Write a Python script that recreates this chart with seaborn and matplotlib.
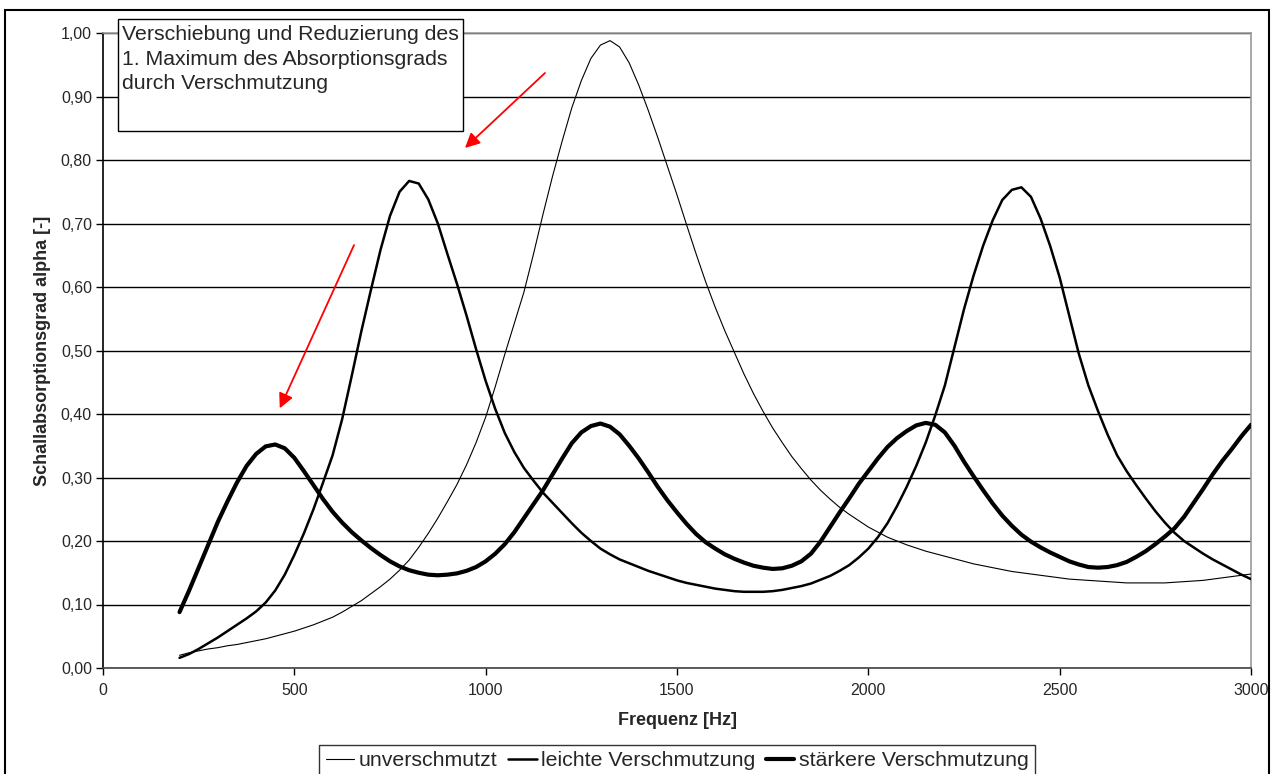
import matplotlib
matplotlib.use("Agg")
import matplotlib.pyplot as plt
import matplotlib.patches as mpatches
from matplotlib.lines import Line2D
from matplotlib.ticker import FuncFormatter
import pandas as pd
import seaborn as sns

sns.set_style("white")
plt.rcParams["font.family"] = ["Liberation Sans", "DejaVu Sans"]
plt.rcParams["lines.solid_joinstyle"] = "round"

# frequency grid of the read-off points (Hz)
freq = list(range(200, 3001, 25))

unverschmutzt = [
    0.020, 0.024, 0.027, 0.030, 0.032, 0.035, 0.037, 0.040, 0.043, 0.046,
    0.050, 0.054, 0.058, 0.063, 0.068, 0.074, 0.080, 0.088, 0.097, 0.106,
    0.117, 0.128, 0.140, 0.154, 0.170, 0.190, 0.212, 0.236, 0.262, 0.289,
    0.320, 0.355, 0.395, 0.443, 0.494, 0.543, 0.592, 0.652, 0.715, 0.775,
    0.830, 0.882, 0.925, 0.960, 0.981, 0.988, 0.978, 0.953, 0.918, 0.878,
    0.835, 0.790, 0.745, 0.698, 0.652, 0.608, 0.568, 0.531, 0.497, 0.463,
    0.432, 0.404, 0.378, 0.355, 0.333, 0.314, 0.296, 0.280, 0.266, 0.253,
    0.242, 0.232, 0.222, 0.214, 0.206, 0.200, 0.194, 0.189, 0.184, 0.180,
    0.176, 0.172, 0.168, 0.164, 0.161, 0.158, 0.155, 0.152, 0.150, 0.148,
    0.146, 0.144, 0.142, 0.140, 0.139, 0.138, 0.137, 0.136, 0.135, 0.134,
    0.134, 0.134, 0.134, 0.134, 0.135, 0.136, 0.137, 0.138, 0.140, 0.142,
    0.144, 0.146, 0.148,
]

leicht = [
    0.016, 0.022, 0.030, 0.039, 0.048, 0.058, 0.068, 0.078, 0.089, 0.103,
    0.122, 0.147, 0.178, 0.212, 0.250, 0.292, 0.335, 0.392, 0.460, 0.530,
    0.595, 0.658, 0.712, 0.750, 0.767, 0.763, 0.738, 0.700, 0.652, 0.605,
    0.555, 0.502, 0.452, 0.408, 0.370, 0.340, 0.315, 0.295, 0.276, 0.260,
    0.244, 0.228, 0.213, 0.200, 0.188, 0.179, 0.171, 0.165, 0.159, 0.153,
    0.148, 0.143, 0.138, 0.134, 0.131, 0.128, 0.125, 0.123, 0.121, 0.120,
    0.120, 0.120, 0.121, 0.123, 0.126, 0.129, 0.133, 0.139, 0.145, 0.153,
    0.162, 0.174, 0.188, 0.206, 0.228, 0.255, 0.285, 0.318, 0.355, 0.398,
    0.445, 0.505, 0.565, 0.618, 0.665, 0.705, 0.737, 0.753, 0.757, 0.742,
    0.708, 0.665, 0.615, 0.555, 0.495, 0.445, 0.405, 0.368, 0.335, 0.310,
    0.288, 0.267, 0.247, 0.229, 0.213, 0.200, 0.190, 0.180, 0.171, 0.163,
    0.155, 0.147, 0.140,
]

staerker = [
    0.088, 0.122, 0.158, 0.194, 0.230, 0.262, 0.292, 0.318, 0.337, 0.349,
    0.352, 0.346, 0.331, 0.310, 0.288, 0.266, 0.246, 0.229, 0.214, 0.201,
    0.189, 0.178, 0.168, 0.160, 0.154, 0.150, 0.147, 0.146, 0.147, 0.149,
    0.153, 0.159, 0.168, 0.180, 0.195, 0.214, 0.236, 0.258, 0.280, 0.305,
    0.330, 0.354, 0.371, 0.381, 0.385, 0.380, 0.368, 0.350, 0.330, 0.308,
    0.285, 0.264, 0.245, 0.227, 0.211, 0.198, 0.188, 0.179, 0.172, 0.166,
    0.161, 0.158, 0.156, 0.157, 0.161, 0.168, 0.180, 0.199, 0.222, 0.245,
    0.267, 0.290, 0.310, 0.330, 0.348, 0.362, 0.373, 0.382, 0.386, 0.383,
    0.371, 0.350, 0.325, 0.302, 0.280, 0.259, 0.240, 0.224, 0.210, 0.199,
    0.190, 0.182, 0.175, 0.168, 0.163, 0.159, 0.158, 0.159, 0.162, 0.167,
    0.175, 0.184, 0.195, 0.207, 0.220, 0.238, 0.260, 0.282, 0.305, 0.326,
    0.345, 0.365, 0.383,
]

series = [
    ("unverschmutzt", unverschmutzt, 0.8),
    ("leichte Verschmutzung", leicht, 1.8),
    ("stärkere Verschmutzung", staerker, 3.0),
]

fig = plt.figure(figsize=(12.72, 7.74), dpi=100)
ax = fig.add_axes([103 / 1272, 1 - 668 / 774, 1148 / 1272, 635 / 774])

handles = []
for name, vals, lw in series:
    df = pd.DataFrame({"f": freq, "a": vals})
    sns.lineplot(data=df, x="f", y="a", ax=ax, color="black", linewidth=lw,
                 sort=False, legend=False, zorder=3)
    handles.append(Line2D([], [], color="black", linewidth=lw, label=name))

ax.set_xlim(0, 3000)
ax.set_ylim(0, 1.0)
ax.set_xticks(range(0, 3001, 500))
ax.set_yticks([i / 10 for i in range(11)])
ax.yaxis.set_major_formatter(FuncFormatter(lambda v, p: f"{v:.2f}".replace(".", ",")))
ax.grid(axis="y", color="black", linewidth=1.0)
ax.grid(axis="x", visible=False)
ax.set_axisbelow(True)

for side in ["top", "right"]:
    ax.spines[side].set_color("#999999")
    ax.spines[side].set_linewidth(1.2)
ax.spines["left"].set_color("black")
ax.spines["bottom"].set_color("#444444")
for side in ["left", "bottom"]:
    ax.spines[side].set_linewidth(1.2)

ax.tick_params(axis="both", direction="out", length=5, width=1, color="black",
               labelsize=11.5, left=True, bottom=True)
ax.tick_params(axis="x", pad=6)
ax.tick_params(axis="y", pad=3)

ax.set_xlabel("Frequenz [Hz]", fontsize=13, fontweight="bold", labelpad=10)
ax.set_ylabel("Schallabsorptionsgrad alpha [-]", fontsize=13, fontweight="bold", labelpad=7)

# annotation box
box = mpatches.Rectangle((15 / 1148, 0.8457), 345 / 1148, 0.1765, transform=ax.transAxes,
                         facecolor="white", edgecolor="black", linewidth=1, clip_on=False, zorder=5)
ax.add_patch(box)
ax.text(19 / 1148, 1.0126, "Verschiebung und Reduzierung des\n1. Maximum des Absorptionsgrads\ndurch Verschmutzung",
        transform=ax.transAxes, fontsize=15.3, va="top", ha="left", linespacing=1.38, zorder=6)

# red arrows
for start, end in [((1155, 0.937), (946, 0.819)), ((656, 0.666), (462, 0.409))]:
    ax.annotate("", xy=end, xytext=start,
                arrowprops=dict(arrowstyle="-|>", color="red", lw=1.3, mutation_scale=22,
                                shrinkA=0, shrinkB=0), zorder=4)

leg = fig.legend(handles=handles, loc="upper center", bbox_to_anchor=(677 / 1272, 1 - 745 / 774),
                 ncol=3, fontsize=15.3, frameon=True, fancybox=False, edgecolor="black",
                 handlelength=1.35, handletextpad=0.2, columnspacing=0.5, borderpad=0.3,
                 borderaxespad=0)
leg.get_frame().set_linewidth(1)

# outer chart border
fig.patches.append(mpatches.Rectangle((5 / 1272, -0.05), 1264 / 1272, 1.05 - 10 / 774,
                                      transform=fig.transFigure, fill=False,
                                      edgecolor="black", linewidth=1.5))

fig.savefig("out.png", dpi=100)
